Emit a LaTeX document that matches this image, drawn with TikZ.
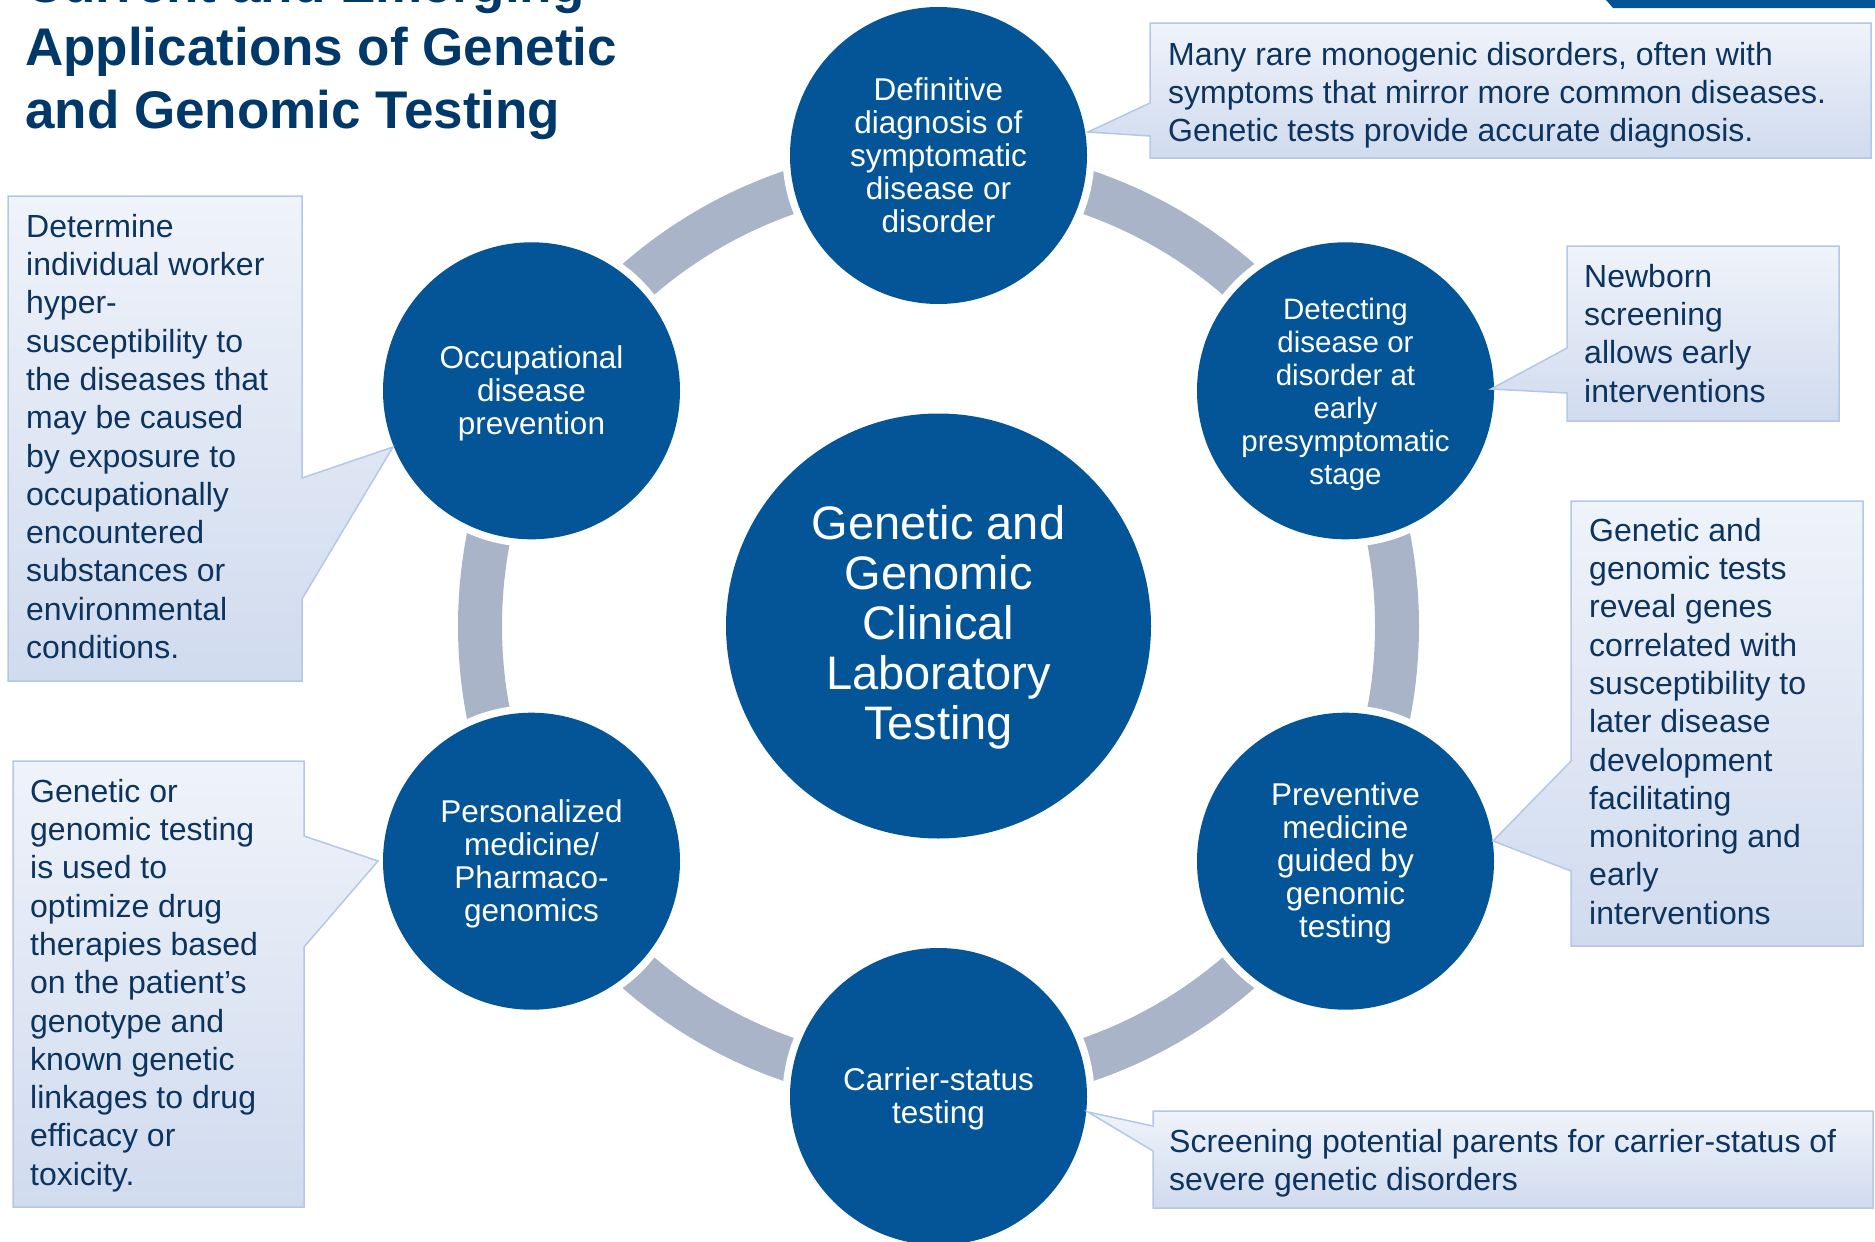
\documentclass[tikz,border=0pt]{standalone}
\usepackage{fontspec}
\setmainfont{Liberation Sans}
\definecolor{cblue}{RGB}{3,85,151}
\definecolor{ringgray}{RGB}{170,180,201}
\definecolor{navy}{RGB}{0,56,105}
\definecolor{ctext}{RGB}{12,52,94}
\definecolor{ctop}{RGB}{239,243,250}
\definecolor{cbot}{RGB}{208,219,238}
\definecolor{cborder}{RGB}{181,199,230}
\newcommand\stT{\rule[-15pt]{0pt}{63pt}}
\newcommand\stC{\rule[-8.2pt]{0pt}{50pt}}
\newcommand\stS{\rule[-5.25pt]{0pt}{33pt}}
\newcommand\stK{\rule[-8.3pt]{0pt}{38.3pt}}
\newcommand\circfont{\fontsize{31.5pt}{33pt}\selectfont}
\newcommand\smallcircfont{\fontsize{29.5pt}{33pt}\selectfont}
\newcommand\centfont{\fontsize{47pt}{50pt}\selectfont}
\newcommand\callfont{\fontsize{32pt}{38.3pt}\selectfont}
\newcommand\ttlfont{\fontsize{53pt}{63pt}\selectfont\bfseries}
\lineskiplimit=-100pt
\tikzset{
  bluec/.style={circle, minimum size=297pt, inner sep=0pt, fill=cblue,
    preaction={draw=white, line width=15pt}},
  centerc/.style={circle, minimum size=425pt, inner sep=0pt, fill=cblue},
  circtext/.style={text=white, align=center, inner sep=0pt, font=\circfont},
  centertext/.style={text=white, align=center, inner sep=0pt, font=\centfont},
  calltext/.style={text=ctext, align=left, inner sep=0pt, anchor=north west, font=\callfont},
  titletext/.style={text=navy, align=left, inner sep=0pt, anchor=north west, font=\ttlfont},
  callbox/.style={top color=ctop, bottom color=cbot, draw=cborder, line width=1.5pt},
  ringstyle/.style={draw=ringgray, line width=44pt},
}
\begin{document}
\begin{tikzpicture}[x=1pt,y=-1pt]
\useasboundingbox (0,0) rectangle (1875,1242);
\clip (0,0) rectangle (1875,1242);

% top bar
\fill[cblue] (1606,0) -- (1875,0) -- (1875,8) -- (1613,8) -- cycle;

% title
\node[titletext] (title) at (25,-46) {\stT Current and Emerging\\ \stT Applications of Genetic\\ \stT and Genomic Testing};

% ring
\coordinate (O) at (938.5,626);
\draw[ringstyle] (O) circle[radius=458.5pt];

% circles
\node[centerc] (center) at (O) {};
\node[centertext] (centerT) at (938.5,623) {\stC Genetic and\\ \stC Genomic\\ \stC Clinical\\ \stC Laboratory\\ \stC Testing};

\node[bluec] (diag) at (938.5,155.5) {};
\node[bluec] (early) at (1345.5,390.8) {};
\node[bluec] (prev) at (1345.5,861.2) {};
\node[bluec] (carrier) at (938.5,1096.5) {};
\node[bluec] (pharma) at (531.5,861.2) {};
\node[bluec] (occup) at (531.5,390.8) {};

\node[circtext] (diagT) at (diag.center) {\stS Definitive\\ \stS diagnosis of\\ \stS symptomatic\\ \stS disease or\\ \stS disorder};
\node[circtext, font=\smallcircfont] (earlyT) at (early.center) {\stS Detecting\\ \stS disease or\\ \stS disorder at\\ \stS early\\ \stS presymptomatic\\ \stS stage};
\node[circtext] (prevT) at (prev.center) {\stS Preventive\\ \stS medicine\\ \stS guided by\\ \stS genomic\\ \stS testing};
\node[circtext] (carrierT) at (carrier.center) {\stS Carrier-status\\ \stS testing};
\node[circtext] (pharmaT) at (pharma.center) {\stS Personalized\\ \stS medicine/\\ \stS Pharmaco-\\ \stS genomics};
\node[circtext] (occupT) at (occup.center) {\stS Occupational\\ \stS disease\\ \stS prevention};

% callouts
\path[callbox] (1150,23) -- (1871,23) -- (1871,158) -- (1150,158) -- (1150,136) -- (1088,132) -- (1150,103) -- cycle;
\node[calltext] (diagC) at (1168,35) {\stK Many rare monogenic disorders, often with\\ \stK symptoms that mirror more common diseases.\\ \stK Genetic tests provide accurate diagnosis.};

\path[callbox] (1567,246) -- (1839,246) -- (1839,421) -- (1567,421) -- (1567,393) -- (1491,389) -- (1567,348) -- cycle;
\node[calltext] (earlyC) at (1584,257) {\stK Newborn\\ \stK screening\\ \stK allows early\\ \stK interventions};

\path[callbox] (1571,501) -- (1863,501) -- (1863,946) -- (1571,946) -- (1571,871) -- (1493,841) -- (1571,761) -- cycle;
\node[calltext] (prevC) at (1589,511) {\stK Genetic and\\ \stK genomic tests\\ \stK reveal genes\\ \stK correlated with\\ \stK susceptibility to\\ \stK later disease\\ \stK development\\ \stK facilitating\\ \stK monitoring and\\ \stK early\\ \stK interventions};

\path[callbox] (8,196) -- (302,196) -- (302,478) -- (393,447) -- (302,599) -- (302,681) -- (8,681) -- cycle;
\node[calltext] (occupC) at (26,207) {\stK Determine\\ \stK individual worker\\ \stK hyper-\\ \stK susceptibility to\\ \stK the diseases that\\ \stK may be caused\\ \stK by exposure to\\ \stK occupationally\\ \stK encountered\\ \stK substances or\\ \stK environmental\\ \stK conditions.};

\path[callbox] (13,761) -- (304,761) -- (304,836) -- (378,861) -- (304,947) -- (304,1207) -- (13,1207) -- cycle;
\node[calltext] (pharmaC) at (30,772) {\stK Genetic or\\ \stK genomic testing\\ \stK is used to\\ \stK optimize drug\\ \stK therapies based\\ \stK on the patient’s\\ \stK genotype and\\ \stK known genetic\\ \stK linkages to drug\\ \stK efficacy or\\ \stK toxicity.};

\path[callbox] (1153,1111) -- (1873,1111) -- (1873,1208) -- (1153,1208) -- (1153,1151) -- (1088,1112) -- (1153,1126) -- cycle;
\node[calltext] (carrierC) at (1169,1122) {\stK Screening potential parents for carrier-status of\\ \stK severe genetic disorders};
\end{tikzpicture}
\end{document}
